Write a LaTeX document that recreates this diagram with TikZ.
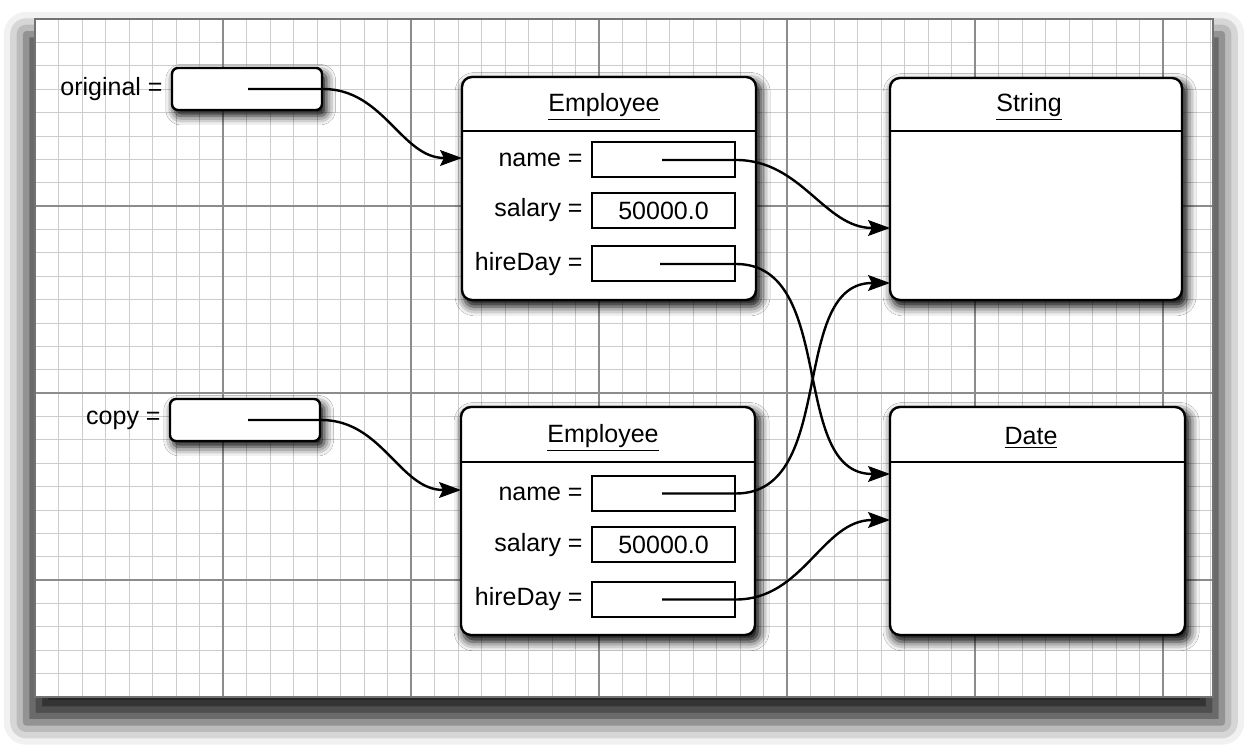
\documentclass[tikz,border=0pt]{standalone}
\usepackage{fontspec}
\setmainfont{Liberation Sans}
\usetikzlibrary{shadows.blur,arrows.meta,calc}
\begin{document}
\begin{tikzpicture}[x=0.5pt,y=-0.5pt,
  every node/.style={font=\fontsize{12.5}{14}\selectfont},
  minorline/.style={draw=black!20, line width=0.35pt},
  majorline/.style={draw=black!45, line width=0.6pt},
  boxshadow/.style={blur shadow={shadow xshift=1.8pt, shadow yshift=-2.8pt, shadow blur radius=4.5pt, shadow opacity=100, shadow scale=1.01}},
  refbox/.style={draw, line width=1.2pt, rounded corners=3pt, fill=white, minimum width=75pt, minimum height=21pt, inner sep=0pt, boxshadow},
  classbox/.style={draw, line width=1.2pt, rounded corners=5pt, fill=white, inner sep=0pt, boxshadow},
  field/.style={draw, line width=1pt, fill=white, minimum width=71.5pt, minimum height=17.5pt, inner sep=0pt},
  lbl/.style={anchor=east, inner sep=0pt},
  ttl/.style={inner sep=0pt},
  ptr/.style={line width=1.2pt, -{Stealth[length=11pt,width=8pt,inset=2pt,fill=black,line width=0.5pt]}},
  header/.style={line width=1pt}
]
\useasboundingbox (0,0) rectangle (1249,753);
% paper with shadow
\path[fill=white, blur shadow={shadow xshift=0pt, shadow yshift=-10pt, shadow blur radius=11pt, shadow opacity=85, shadow scale=1.015}] (35,19) rectangle (1213,697);
\begin{scope}
\clip (35,19) rectangle (1213,697);
\foreach \i in {0,...,51} \draw[minorline] ({35+23.5*\i},19) -- ({35+23.5*\i},697);
\foreach \j in {0,...,29} \draw[minorline] (35,{19+23.375*\j}) -- (1213,{19+23.375*\j});
\foreach \i in {0,...,6} \draw[majorline] ({35+188*\i},19) -- ({35+188*\i},697);
\foreach \j in {0,...,3} \draw[majorline] (35,{19+187*\j}) -- (1213,{19+187*\j});
\end{scope}
\draw[black!55, line width=0.8pt] (35,19) rectangle (1213,697);

% reference variables
\node[refbox] (orig) at (247,89) {};
\node[lbl] (origl) at (163,89) {original =};
\coordinate (o1) at (248,89);
\node[refbox] (copy) at (245,420) {};
\node[lbl] (copyl) at (161,420) {copy =};
\coordinate (c1) at (248,420);

% Employee 1
\node[classbox, minimum width=147pt, minimum height=111.5pt] (emp1) at (609,188.5) {};
\coordinate (h1) at (0,131);
\draw[header] (emp1.west |- h1) -- (emp1.east |- h1);
\node[ttl] (emp1t) at (604,107) {\underline{Employee}};
\node[field] (e1n) at (663.5,160) {};
\node[field] (e1s) at (663.5,210.5) {50000.0};
\node[field] (e1h) at (663.5,264) {};
\node[lbl] (e1nl) at (583,160) {name =};
\node[lbl] (e1sl) at (583,210.5) {salary =};
\node[lbl] (e1hl) at (583,264) {hireDay =};

% Employee 2
\node[classbox, minimum width=147pt, minimum height=114pt] (emp2) at (608,521) {};
\coordinate (h2) at (0,462);
\draw[header] (emp2.west |- h2) -- (emp2.east |- h2);
\node[ttl] (emp2t) at (603,438) {\underline{Employee}};
\node[field] (e2n) at (663.5,493.5) {};
\node[field] (e2s) at (663.5,545) {50000.0};
\node[field] (e2h) at (663.5,599.5) {};
\node[lbl] (e2nl) at (583,493.5) {name =};
\node[lbl] (e2sl) at (583,545) {salary =};
\node[lbl] (e2hl) at (583,599.5) {hireDay =};

% String
\node[classbox, minimum width=146pt, minimum height=111pt] (str) at (1036,189) {};
\draw[header] (str.west |- h1) -- (str.east |- h1);
\node[ttl] (strt) at (1029,107) {\underline{String}};

% Date
\node[classbox, minimum width=147.5pt, minimum height=114pt] (date) at (1037.5,521) {};
\draw[header] (date.west |- h2) -- (date.east |- h2);
\node[ttl] (datet) at (1031,438) {\underline{Date}};

% pointer start points and targets
\coordinate (p1n) at (662,160);
\coordinate (p1h) at (660,264);
\coordinate (p2n) at (662,493.5);
\coordinate (p2h) at (662,599.5);
\coordinate (emp1in) at (462,158);
\coordinate (emp2in) at (461,490);
\coordinate (strA) at (890,228);
\coordinate (strB) at (890,283);
\coordinate (dateA) at (890,474);
\coordinate (dateB) at (890,520);

% connectors
\draw[ptr] (o1) -- (orig.east) to[out=0,in=180] (emp1in);
\draw[ptr] (c1) -- (copy.east) to[out=0,in=180] (emp2in);
\draw[ptr] (p1n) -- (e1n.east) to[out=0,in=180] (strA);
\draw[ptr] (p1h) -- (e1h.east |- p1h) to[out=0,in=180] (dateA);
\draw[ptr] (p2n) -- (e2n.east) to[out=0,in=180] (strB);
\draw[ptr] (p2h) -- (e2h.east) to[out=0,in=180] (dateB);
\end{tikzpicture}
\end{document}
